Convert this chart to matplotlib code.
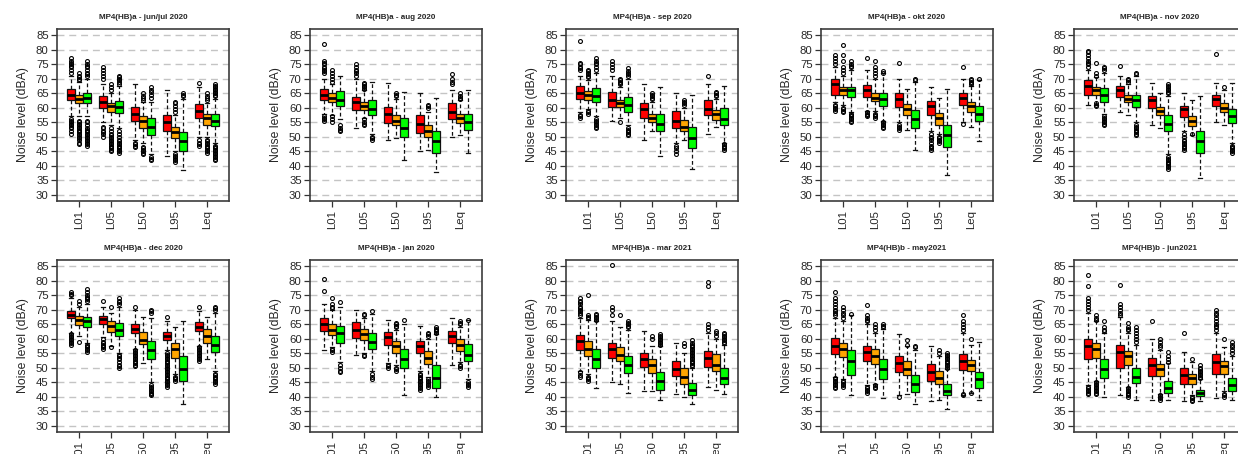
import matplotlib
matplotlib.use("Agg")
import matplotlib.pyplot as plt

plt.rcParams['font.family'] = ['Liberation Sans', 'DejaVu Sans']

TITLES = ["MP4(HB)a - jun/jul 2020", "MP4(HB)a - aug 2020", "MP4(HB)a - sep 2020",
          "MP4(HB)a - okt 2020", "MP4(HB)a - nov 2020",
          "MP4(HB)a - dec 2020", "MP4(HB)a - jan 2020", "MP4(HB)a - mar 2021",
          "MP4(HB)b - may2021", "MP4(HB)b - jun2021"]
METRICS = ["L01", "L05", "L50", "L95", "Leq"]
SERIES_COLORS = ['#FF0000', '#FFA500', '#00FF00']

# each row: one panel; 15 values = (red, orange, green) for L01, L05, L50, L95, Leq
Q1 = [
    [62.5, 61.5, 61.5, 59.8, 58.5, 58.3, 55.3, 53.2, 50.7, 52.0, 49.5, 45.0, 56.5, 54.2, 53.6],
    [62.7, 62.1, 60.6, 59.2, 59.2, 57.5, 54.6, 54.1, 50.1, 51.2, 50.1, 44.6, 56.0, 54.6, 52.3],
    [62.9, 62.7, 62.1, 60.4, 60.4, 58.6, 56.4, 55.2, 52.1, 53.0, 52.1, 46.0, 57.5, 55.8, 54.1],
    [64.4, 64.4, 63.6, 63.8, 62.4, 60.6, 60.4, 57.5, 53.2, 57.5, 54.0, 46.4, 61.0, 58.6, 55.4],
    [64.4, 64.4, 62.1, 63.6, 62.1, 60.1, 59.8, 57.5, 52.1, 56.9, 53.7, 44.3, 60.6, 58.6, 54.6],
    [67.1, 64.8, 63.9, 65.0, 62.2, 61.0, 61.8, 58.1, 53.2, 59.5, 53.5, 45.4, 62.5, 58.7, 55.6],
    [62.5, 61.4, 58.7, 60.4, 59.5, 56.4, 57.9, 55.2, 50.0, 55.2, 51.4, 43.1, 58.4, 55.8, 52.4],
    [56.1, 54.1, 50.0, 53.5, 52.4, 48.1, 50.4, 48.1, 42.3, 47.2, 44.3, 40.8, 50.3, 48.9, 44.3],
    [54.9, 53.7, 47.5, 52.4, 51.4, 46.0, 48.7, 47.5, 41.6, 45.4, 44.3, 40.5, 49.1, 48.9, 42.9],
    [52.9, 53.5, 46.4, 50.0, 51.0, 44.9, 47.2, 47.2, 41.4, 44.3, 44.3, 40.3, 47.8, 47.8, 42.0],
]
MED = [
    [64.4, 63.0, 63.5, 62.1, 60.6, 60.2, 58.0, 55.5, 53.5, 55.0, 51.5, 48.5, 59.0, 56.5, 55.5],
    [64.4, 63.5, 62.5, 62.0, 60.5, 59.5, 58.0, 55.5, 53.0, 54.5, 52.0, 48.5, 58.5, 56.5, 55.0],
    [65.0, 64.5, 64.0, 62.5, 61.5, 61.0, 59.5, 56.5, 54.5, 55.5, 53.5, 49.5, 59.5, 58.0, 56.0],
    [68.0, 66.0, 66.0, 66.0, 63.5, 63.0, 63.0, 59.5, 56.0, 60.5, 56.5, 50.5, 63.5, 60.5, 58.0],
    [67.5, 66.0, 64.5, 66.0, 63.0, 62.5, 62.5, 59.0, 54.5, 59.5, 55.5, 48.5, 63.0, 60.0, 57.0],
    [68.3, 66.5, 66.0, 66.8, 64.5, 63.0, 63.5, 59.5, 56.0, 61.0, 56.5, 49.5, 64.0, 61.0, 58.0],
    [65.0, 63.0, 62.0, 63.0, 61.5, 59.0, 60.5, 57.5, 53.0, 57.5, 53.5, 46.5, 61.0, 58.0, 54.5],
    [59.3, 56.5, 53.0, 56.5, 54.5, 51.0, 53.0, 51.0, 45.5, 49.5, 47.0, 42.5, 53.5, 51.0, 46.5],
    [57.5, 56.5, 52.5, 55.5, 54.0, 49.5, 51.5, 49.5, 44.5, 48.5, 46.5, 42.0, 52.5, 51.0, 46.0],
    [57.5, 56.5, 49.5, 55.5, 54.0, 47.0, 51.0, 49.5, 43.0, 47.5, 46.5, 41.5, 52.0, 50.5, 44.0],
]
Q3 = [
    [66.3, 64.5, 65.0, 64.2, 61.5, 62.2, 60.4, 57.0, 56.4, 57.5, 53.5, 51.8, 61.3, 58.0, 58.0],
    [66.3, 65.0, 65.9, 63.8, 62.0, 62.6, 60.4, 57.5, 56.4, 57.5, 54.0, 52.0, 61.5, 58.0, 58.0],
    [67.5, 65.9, 66.7, 65.5, 62.7, 63.6, 61.7, 58.0, 58.0, 59.0, 55.7, 53.5, 62.7, 59.2, 59.8],
    [69.9, 67.2, 67.2, 67.8, 65.0, 65.0, 65.0, 61.2, 59.2, 62.4, 58.3, 54.0, 65.2, 62.0, 60.6],
    [69.5, 67.0, 66.7, 67.5, 64.4, 64.4, 64.0, 60.4, 57.5, 60.6, 57.2, 52.0, 64.4, 61.5, 59.5],
    [69.7, 67.9, 67.6, 67.9, 66.2, 65.3, 65.0, 62.2, 59.3, 62.2, 58.7, 54.1, 65.6, 63.3, 61.0],
    [67.0, 65.0, 64.5, 65.6, 63.3, 61.8, 62.4, 59.3, 56.4, 59.3, 55.8, 51.0, 62.5, 59.9, 58.1],
    [61.4, 59.3, 56.4, 58.7, 57.2, 54.1, 55.2, 53.2, 48.7, 52.4, 50.0, 44.9, 55.8, 54.7, 50.0],
    [60.4, 58.7, 56.0, 57.5, 56.4, 53.2, 54.1, 52.4, 47.7, 51.2, 48.9, 44.3, 54.7, 52.6, 48.7],
    [59.9, 58.5, 52.9, 57.9, 55.8, 50.0, 53.5, 51.2, 45.4, 50.0, 48.0, 42.5, 54.7, 52.4, 46.4],
]
WLO = [
    [57.0, 57.0, 57.0, 55.0, 54.0, 53.0, 49.0, 48.0, 44.0, 43.5, 45.0, 38.5, 50.0, 50.0, 48.0],
    [58.0, 57.5, 56.0, 53.0, 56.5, 51.0, 49.0, 49.5, 42.0, 45.0, 45.5, 38.0, 50.0, 50.5, 44.5],
    [58.5, 59.5, 57.0, 55.5, 56.5, 54.0, 49.0, 52.0, 43.5, 48.0, 49.0, 39.0, 51.0, 53.5, 48.0],
    [62.0, 61.0, 58.5, 59.0, 59.0, 55.5, 55.0, 52.5, 45.5, 52.0, 51.0, 37.0, 55.0, 53.5, 48.5],
    [61.0, 61.0, 58.0, 58.5, 57.5, 55.0, 54.0, 53.0, 44.0, 52.0, 50.5, 36.0, 55.0, 54.0, 48.0],
    [62.0, 61.0, 58.5, 60.5, 57.5, 55.0, 56.5, 51.5, 45.0, 56.0, 48.0, 37.5, 57.5, 53.0, 49.0],
    [56.0, 57.0, 52.0, 54.5, 55.0, 49.0, 51.5, 51.0, 40.5, 49.0, 47.0, 40.0, 51.0, 52.0, 46.0],
    [49.0, 48.0, 43.0, 45.0, 44.5, 41.5, 42.0, 42.0, 39.0, 41.0, 40.0, 37.5, 43.5, 42.5, 41.0],
    [47.0, 46.0, 40.5, 44.0, 44.5, 39.5, 40.5, 41.0, 37.5, 38.5, 39.0, 36.0, 40.5, 41.5, 39.0],
    [44.0, 45.5, 40.0, 40.5, 43.5, 39.0, 39.0, 41.0, 39.0, 38.5, 40.5, 38.5, 39.5, 42.0, 39.0],
]
WHI = [
    [71.0, 69.0, 70.0, 68.0, 65.0, 67.5, 68.0, 62.0, 62.0, 66.0, 57.5, 63.0, 67.0, 61.5, 63.0],
    [70.0, 68.0, 71.0, 70.0, 66.0, 69.0, 68.5, 63.0, 65.5, 65.0, 58.5, 63.5, 66.0, 62.5, 66.0],
    [71.0, 69.5, 72.0, 71.0, 67.0, 70.0, 68.0, 62.0, 67.0, 65.0, 60.0, 64.5, 68.0, 63.0, 67.5],
    [74.0, 71.0, 73.0, 73.0, 70.0, 72.0, 70.0, 66.5, 69.0, 67.0, 63.5, 66.5, 70.0, 67.5, 69.5],
    [73.0, 70.5, 72.0, 71.0, 68.0, 71.0, 68.5, 65.0, 64.0, 65.0, 62.5, 64.0, 68.5, 66.0, 68.5],
    [74.0, 71.0, 72.0, 71.0, 69.0, 71.0, 70.0, 67.5, 67.0, 66.0, 64.0, 66.0, 69.5, 67.5, 69.0],
    [72.0, 70.0, 71.0, 70.0, 67.0, 68.5, 66.5, 63.0, 65.0, 64.5, 60.0, 61.5, 67.0, 64.0, 66.5],
    [67.0, 66.5, 66.0, 66.0, 64.0, 63.0, 62.5, 57.5, 57.5, 58.5, 55.0, 50.0, 62.0, 60.0, 58.0],
    [67.0, 66.0, 68.0, 65.0, 62.0, 63.5, 61.5, 57.5, 56.0, 57.5, 54.0, 49.5, 62.0, 58.0, 59.0],
    [69.0, 66.0, 62.0, 67.5, 62.0, 58.0, 60.0, 56.0, 51.5, 55.5, 52.0, 46.0, 62.0, 57.0, 54.0],
]
OUTLIERS = [
    [  # jun/jul 2020
        [72, 73, 74, 74.5, 75, 75.5, 76, 77, 51, 52, 53, 53.5, 54, 54.5, 55, 55.5, 56],
        [69.5, 70, 70.5, 71, 72, 47.5, 48, 49, 49.5, 50, 50.5, 51, 51.5, 52, 52.5, 53, 53.5, 54, 54.5, 55, 55.5],
        [71, 71.5, 72, 73, 74, 74.5, 75, 76, 47, 47.5, 48, 48.5, 49, 49.5, 50, 50.5, 51, 51.5, 52, 52.5, 53, 54, 55, 55.5],
        [70, 71, 72, 73, 74, 50, 51, 51.5, 52, 53, 53.5],
        [66, 67, 68, 45, 45.5, 46, 46.5, 47, 47.5, 48, 48.5, 49, 49.5, 50, 50.5, 51, 52, 53],
        [68, 69, 69.5, 70, 70.5, 71, 44.5, 45, 45.5, 46, 46.5, 47, 47.5, 48, 48.5, 49, 50, 51, 52],
        [46.5, 47, 47.5, 48],
        [62.5, 63.5, 64, 65, 44, 44.5, 45, 45.5, 46, 46.5],
        [63.5, 64.5, 65.5, 66, 67, 42, 42.5, 43],
        [],
        [58.5, 59.5, 60.5, 61.5, 62, 41.5, 42, 42.5, 43, 43.5, 44],
        [64, 64.5, 65],
        [68.5, 47, 47.5, 48, 49],
        [62.5, 63.5, 64, 65, 44.5, 45, 45.5, 46, 46.5, 47, 47.5, 48, 48.5, 49],
        [64, 64.5, 65, 65.5, 66, 66.5, 67, 67.5, 68, 42, 42.5, 43, 43.5, 44, 44.5, 45, 45.5, 46, 46.5, 47],
    ],
    [  # aug 2020
        [72, 72.5, 73, 73.5, 74, 75, 75.5, 76, 82, 55.5, 56, 56.5, 57],
        [69, 70, 71, 72, 73, 55, 56, 57],
        [52, 52.5, 53, 54],
        [71, 72, 72.5, 73, 74, 75],
        [66.5, 67, 67.5, 68, 68.5, 54, 54.5, 55, 56],
        [49, 49.5, 50],
        [], [64, 64.5, 65], [], [], [60, 60.5, 61], [],
        [68, 69, 70, 71.5],
        [63, 63.5, 64, 65],
        [],
    ],
    [  # sep 2020
        [73, 73.5, 74, 75, 75.5, 83, 56.5, 57, 57.5],
        [70.5, 71, 71.5, 72, 72.5, 73, 58, 58.5, 59],
        [73, 74, 75, 75.5, 76, 77, 53, 53.5, 54, 54.5, 55, 55.5, 56],
        [73, 74, 75, 76],
        [68, 68.5, 69, 69.5, 70, 55],
        [71, 71.5, 72, 72.5, 73.5, 50.5, 51, 51.5, 52, 52.5, 53],
        [], [63, 63.5, 64, 64.5, 65], [],
        [44, 45, 46, 47],
        [61, 61.5, 62, 62.5],
        [],
        [71],
        [64, 64.5, 65, 65.5],
        [45.5, 46, 46.5, 47, 47.5],
    ],
    [  # okt 2020
        [75, 76, 77, 78, 59, 59.5, 60, 60.5, 61],
        [72, 73, 74, 76, 78, 81.5, 58.5, 59, 59.5, 60],
        [74, 74.5, 75, 76, 55, 55.5, 56, 56.5, 57, 57.5, 58],
        [77, 57, 57.5, 58, 58.5],
        [71, 72, 73, 74, 76, 56.5, 57, 57.5, 58],
        [72, 72.5, 53, 53.5, 54, 54.5, 55],
        [75.5, 52.5, 53, 53.5, 54],
        [],
        [69.5, 70],
        [45.5, 46, 46.5, 47, 48, 49, 49.5, 50, 51],
        [48, 48.5, 49, 49.5, 50],
        [],
        [74, 54.5],
        [68, 68.5, 69, 69.5, 70],
        [70],
    ],
    [  # nov 2020
        [74, 75, 75.5, 76, 77, 78, 79, 79.5],
        [71, 72, 75.5, 60.5, 61, 61.5],
        [73, 73.5, 74, 54, 54.5, 55, 55.5, 56, 56.5, 57],
        [74.5],
        [69, 69.5, 70],
        [71.5, 72, 50.5, 51, 51.5, 52, 52.5, 53, 53.5, 54],
        [], [],
        [65, 65.5, 66, 66.5, 67, 67.5, 68, 39, 39.5, 40, 40.5, 41, 41.5, 42, 42.5, 43],
        [45.5, 46, 46.5, 47, 47.5, 48, 48.5, 49, 50, 51],
        [51],
        [],
        [78.5],
        [67],
        [44.5, 45, 45.5, 46, 46.5, 47],
    ],
    [  # dec 2020
        [75, 75.5, 76, 58, 58.5, 59, 59.5, 60, 60.5, 61, 61.5],
        [72, 73, 59],
        [73, 73.5, 74, 74.5, 75, 76, 77, 55.5, 56, 56.5, 57, 57.5, 58],
        [73, 56.5, 57, 57.5, 58, 58.5, 59, 60],
        [71, 57],
        [72, 72.5, 73, 74, 50, 50.5, 51, 52, 53, 53.5, 54, 54.5],
        [71, 50.5, 51, 51.5, 52, 52.5, 53, 53.5, 54, 54.5, 55, 55.5, 56],
        [],
        [69, 69.5, 70, 40.5, 41, 41.5, 42, 42.5, 43, 43.5, 44],
        [67.5, 43.5, 44, 44.5, 45, 45.5, 46, 46.5, 47, 47.5, 48, 48.5, 49, 49.5, 50, 50.5, 51, 51.5, 52, 52.5, 53, 53.5, 54, 54.5, 55],
        [45.5, 46, 46.5, 47],
        [],
        [71, 52.5, 53, 53.5, 54, 54.5, 55, 55.5, 56, 56.5, 57],
        [],
        [70, 70.5, 71, 44.5, 45, 45.5, 46, 46.5, 47, 47.5, 48],
    ],
    [  # jan 2020
        [76.5, 80.5],
        [70.5, 71, 72, 74, 55.5, 56, 56.5],
        [72.5, 48.5, 49, 50, 51],
        [],
        [68, 68.5, 54, 54.5],
        [69.5, 46, 47, 48],
        [50, 50.5, 51],
        [64, 64.5, 65, 65.5, 49, 49.5, 50],
        [66.5],
        [42.5, 43, 43.5, 44, 44.5, 45, 45.5, 46, 46.5, 47, 47.5, 48],
        [61, 61.5, 62, 43.5, 44, 44.5, 45, 45.5, 46],
        [62, 62.5, 63, 63.5, 64],
        [],
        [65, 65.5, 66, 50, 50.5, 51],
        [66.5, 43.5, 44, 44.5, 45],
    ],
    [  # mar 2021
        [68, 69, 69.5, 70, 70.5, 71, 72, 72.5, 73, 74, 47, 47.5, 48.5],
        [67, 67.5, 68, 75, 45.5, 46, 46.5, 47],
        [66.5, 67, 67.5, 68, 68.5],
        [68, 70, 71, 85.5],
        [68],
        [64, 64.5, 65, 65.5, 66],
        [],
        [60, 61],
        [58, 58.5, 59, 59.5, 60, 60.5, 61, 61.5],
        [],
        [57.5, 58.5],
        [50.5, 51, 51.5, 52, 52.5, 53, 53.5, 54, 54.5, 55, 55.5, 56, 56.5, 57, 57.5, 58, 58.5, 59.5],
        [63, 64, 65, 78, 79.5],
        [61, 62, 62.5],
        [58.5, 59, 59.5, 60, 60.5, 61, 61.5, 62],
    ],
    [  # may2021
        [68, 69, 69.5, 70, 71, 72, 73, 74, 76, 43, 43.5, 44, 44.5, 45, 45.5, 46, 46.5],
        [67, 68, 69, 70, 71, 43.5, 44, 44.5, 45, 45.5],
        [68.5],
        [66, 66.5, 67, 68, 71.5, 41.5, 42, 42.5, 43, 43.5],
        [63, 64, 65, 43, 43.5, 44],
        [64, 64.5, 65],
        [40],
        [58, 59.5],
        [57, 57.5],
        [],
        [55, 56],
        [50, 50.5, 51, 51.5, 52, 52.5, 53, 53.5, 54, 54.5, 55],
        [63, 64, 65, 66, 68, 40.5, 41],
        [60, 41.5],
        [],
    ],
    [  # jun2021
        [70, 71, 72, 73, 74, 78, 82, 41, 41.5, 42, 42.5, 43, 43.5],
        [66.5, 67, 68, 41, 41.5, 42, 42.5, 43, 43.5, 44, 44.5, 45],
        [62.5, 63, 64, 66],
        [68, 69, 70, 71, 72, 78.5],
        [63, 63.5, 64, 65.5, 40, 40.5, 41, 41.5, 42, 42.5, 43],
        [59, 60, 61, 62, 63, 64],
        [66],
        [57, 58, 59, 60, 39, 39.5, 40, 40.5],
        [52, 53, 54, 55.5],
        [62],
        [53, 38.5, 39, 39.5, 40],
        [46.5, 47, 47.5, 48, 48.5, 49, 49.5, 50, 51],
        [63, 64, 64.5, 65, 66, 67, 68, 69, 70],
        [60, 40, 40.5, 41],
        [55, 56, 57, 58, 59],
    ],
]
Y_TICKS = [30, 35, 40, 45, 50, 55, 60, 65, 70, 75, 80, 85]

W, H = 1238, 454
fig = plt.figure(figsize=(W / 100, H / 100), dpi=100)

col_left = [57, 310, 566, 821, 1074]
row_top = [28.6, 259.6]
ax_w, ax_h = 172, 172.8
text_col = '#262626'

offsets = [-0.25, 0.0, 0.25]
for p in range(10):
    r, c = divmod(p, 5)
    ax = fig.add_axes([col_left[c] / W, 1 - (row_top[r] + ax_h) / H, ax_w / W, ax_h / H])
    stats, pos = [], []
    for g in range(5):
        for s in range(3):
            k = g * 3 + s
            stats.append(dict(med=MED[p][k], q1=Q1[p][k], q3=Q3[p][k],
                              whislo=WLO[p][k], whishi=WHI[p][k],
                              fliers=OUTLIERS[p][k]))
            pos.append(g + 1 + offsets[s])
    bp = ax.bxp(stats, positions=pos, widths=0.24, capwidths=0.12,
                patch_artist=True, showfliers=True, manage_ticks=False,
                boxprops=dict(edgecolor='#111111', linewidth=0.9),
                whiskerprops=dict(color='#111111', linestyle=(0, (3, 2)), linewidth=0.9),
                capprops=dict(color='#111111', linewidth=0.9),
                medianprops=dict(color='#000000', linewidth=2.0, solid_capstyle='butt'),
                flierprops=dict(marker='o', markersize=2.8, markerfacecolor='none',
                                markeredgecolor='#000000', markeredgewidth=0.8))
    for i, patch in enumerate(bp['boxes']):
        patch.set_facecolor(SERIES_COLORS[i % 3])
    ax.set_xlim(0.31, 5.69)
    ax.set_ylim(27.8, 87.2)
    ax.set_yticks(Y_TICKS)
    ax.set_xticks(range(1, 6))
    ax.set_xticklabels(METRICS, rotation=90)
    for yv in Y_TICKS:
        ax.axhline(yv, color='#C4C4C4', linestyle=(0, (5, 3.5)), linewidth=1.0, zorder=0)
    ax.tick_params(axis='both', labelsize=8.2, length=4, width=0.9,
                   colors='#333333', labelcolor=text_col, pad=2)
    for sp in ax.spines.values():
        sp.set_linewidth(1.2)
        sp.set_color('#3c3c3c')
    ax.set_title(TITLES[p], fontsize=5.8, fontweight='bold', pad=7, color=text_col)
    ax.set_ylabel("Noise level (dBA)", fontsize=8.8, color=text_col)
    ax.yaxis.set_label_coords(-0.165, 0.5)

fig.savefig("out.png", dpi=100)
